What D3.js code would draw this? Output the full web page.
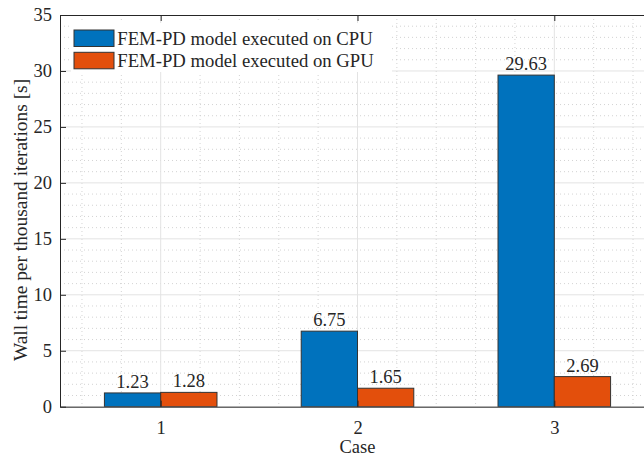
<!DOCTYPE html>
<html><head><meta charset="utf-8">
<script src="https://cdn.jsdelivr.net/npm/d3@7"></script>
<style>html,body{margin:0;padding:0;background:#fff;overflow:hidden}
svg text{font-family:"Liberation Serif","Times New Roman",serif !important;}</style>
</head><body>
<script>
const categories = [1, 2, 3];
const cpuValues = [1.23, 6.75, 29.63];
const gpuValues = [1.28, 1.65, 2.69];
const seriesNames = ["FEM-PD model executed on CPU", "FEM-PD model executed on GPU"];
const seriesColors = ["#0072BD", "#E34F0C"];
const yTicks = [0, 5, 10, 15, 20, 25, 30, 35];
const xLabel = "Case";
const yLabel = "Wall time per thousand iterations [s]";

const W = 644, H = 456;
const fs = 18.5;
const txtColor = "#262626";
const svg = d3.select("body").append("svg").attr("width", W).attr("height", H);

const L = 60, T = 15, B = 406.7, R = 655;
const x = d3.scaleLinear().domain([0.4883, 3.5117]).range([L, R]);
const y = d3.scaleLinear().domain([0, 35]).range([B, T]);
const barW = 0.286;

svg.append("clipPath").attr("id", "c").append("rect")
  .attr("x", L).attr("y", T).attr("width", R - L).attr("height", B - T);
const g = svg.append("g").attr("clip-path", "url(#c)");

// minor grid
const minorY = d3.range(0, 35.01, 1).filter(v => v % 5 !== 0);
const minorX = d3.range(0.6, 3.51, 0.2).filter(v => Math.abs(v - Math.round(v)) > 0.01);
g.selectAll(".my").data(minorY).enter().append("line")
  .attr("x1", L).attr("x2", R).attr("y1", d => y(d)).attr("y2", d => y(d))
  .attr("stroke", "#c8c8c8").attr("stroke-width", 0.8).attr("stroke-dasharray", "1,3");
g.selectAll(".mx").data(minorX).enter().append("line")
  .attr("y1", T).attr("y2", B).attr("x1", d => x(d)).attr("x2", d => x(d))
  .attr("stroke", "#c8c8c8").attr("stroke-width", 0.8).attr("stroke-dasharray", "1,3");
// major grid
g.selectAll(".gy").data(yTicks).enter().append("line")
  .attr("x1", L).attr("x2", R).attr("y1", d => y(d)).attr("y2", d => y(d))
  .attr("stroke", "#e3e3e3").attr("stroke-width", 1);
g.selectAll(".gx").data(categories).enter().append("line")
  .attr("y1", T).attr("y2", B).attr("x1", d => x(d)).attr("x2", d => x(d))
  .attr("stroke", "#e3e3e3").attr("stroke-width", 1);

// bars
const series = [cpuValues, gpuValues];
series.forEach((vals, si) => {
  const off = si === 0 ? -barW : 0;
  g.selectAll(".b" + si).data(categories).enter().append("rect")
    .attr("x", (d) => x(d + off))
    .attr("width", x(barW) - x(0))
    .attr("y", (d, i) => y(vals[i]))
    .attr("height", (d, i) => y(0) - y(vals[i]))
    .attr("fill", seriesColors[si])
    .attr("stroke", "#333").attr("stroke-width", 1);
  svg.selectAll(".l" + si).data(categories).enter().append("text")
    .attr("x", d => x(d + off + barW / 2))
    .attr("y", (d, i) => y(vals[i]) - 5)
    .attr("text-anchor", "middle").attr("font-size", fs).attr("fill", txtColor)
    .text((d, i) => vals[i].toFixed(2));
});

// axes
const yAxis = d3.axisLeft(y).tickValues(yTicks).tickSize(-6).tickPadding(8).tickSizeOuter(0);
const ga = svg.append("g").attr("transform", `translate(${L},0)`).call(yAxis);
ga.select(".domain").attr("stroke", txtColor);
ga.selectAll("line").attr("stroke", txtColor);
ga.selectAll("text").attr("font-size", fs).attr("fill", txtColor);

const xAxis = d3.axisBottom(x).tickValues(categories).tickSize(-6).tickPadding(14).tickSizeOuter(0).tickFormat(d3.format("d"));
const gb = svg.append("g").attr("transform", `translate(0,${B})`).call(xAxis);
gb.select(".domain").attr("stroke", txtColor);
gb.selectAll("line").attr("stroke", txtColor);
gb.selectAll("text").attr("font-size", fs).attr("fill", txtColor);

const xTop = d3.axisTop(x).tickValues(categories).tickSize(-6).tickFormat("").tickSizeOuter(0);
const gt = svg.append("g").attr("transform", `translate(0,${T})`).call(xTop);
gt.select(".domain").attr("stroke", txtColor);
gt.selectAll("line").attr("stroke", txtColor);

// axis labels
svg.append("text").attr("x", x(2)).attr("y", 452.5).attr("text-anchor", "middle")
  .attr("font-size", fs).attr("fill", txtColor).text(xLabel);
svg.append("text").attr("transform", `translate(26.5,220) rotate(-90)`)
  .attr("text-anchor", "middle").attr("font-size", 19.4).attr("fill", txtColor).text(yLabel);

// legend
const lg = svg.append("g");
lg.append("rect").attr("x", 71).attr("y", 23).attr("width", 321).attr("height", 49).attr("fill", "#fff");
seriesNames.forEach((n, i) => {
  const yy = 30 + i * 22.3;
  lg.append("rect").attr("x", 74).attr("y", yy).attr("width", 40).attr("height", 16.5)
    .attr("fill", seriesColors[i]).attr("stroke", "#333").attr("stroke-width", 1);
  lg.append("text").attr("x", 117.3).attr("y", yy + 15).attr("font-size", 18.7)
    .attr("fill", txtColor).text(n);
});
</script>
</body></html>
